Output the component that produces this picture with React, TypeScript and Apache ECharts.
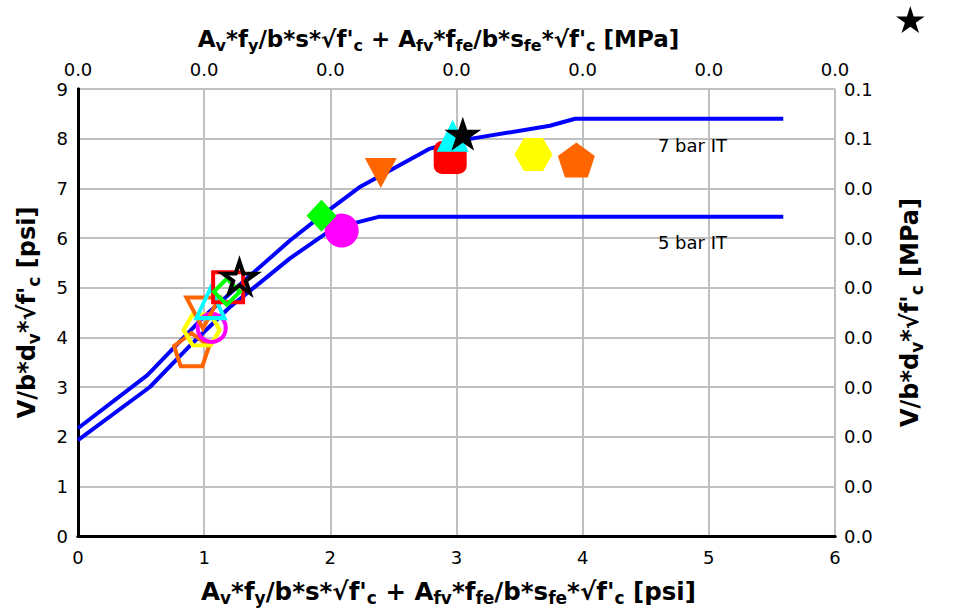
import React, { useEffect, useRef } from "react";
import * as echarts from "echarts";

// ---- data ----
const xTicks = [0, 1, 2, 3, 4, 5, 6];
const topTickLabels = ["0.0", "0.0", "0.0", "0.0", "0.0", "0.0", "0.0"];
const rightTickLabels = ["0.0", "0.0", "0.0", "0.0", "0.0", "0.0", "0.0", "0.0", "0.1", "0.1"];

const curve7bar: [number, number][] = [
  [0, 2.17], [0.55, 3.24], [1.0, 4.42], [1.3, 5.1], [1.68, 5.95], [1.93, 6.45],
  [2.23, 7.02], [2.79, 7.8], [3.0, 7.95], [3.74, 8.26], [3.94, 8.4], [5.59, 8.4],
];
const curve5bar: [number, number][] = [
  [0, 1.93], [0.57, 3.0], [0.89, 3.84], [1.2, 4.6], [1.68, 5.59], [2.02, 6.19],
  [2.39, 6.43], [5.59, 6.43],
];
const curveLabels: [number, number, string][] = [
  [4.87, 7.87, "7 bar IT"],
  [4.87, 5.9, "5 bar IT"],
];

// hollow markers (cluster)
const hollowPentagonOrange: [number, number][] = [[0.9, 3.75]];
const hollowHexYellow: [number, number][] = [[0.98, 4.15]];
const hollowCircleMagenta: [number, number][] = [[1.06, 4.19]];
const hollowInvTriOrange: [number, number][] = [[0.99, 4.49]];
const hollowTriCyan: [number, number][] = [[1.05, 4.69]];
const hollowSquareRed: [number, number][] = [[1.19, 5.01]];
const hollowDiamondGreen: [number, number][] = [[1.18, 4.92]];
const hollowStarBlack: [number, number][] = [[1.28, 5.21]];

// filled markers
const filledCircleMagenta: [number, number][] = [[2.09, 6.15]];
const filledDiamondGreen: [number, number][] = [[1.93, 6.45]];
const filledInvTriOrange: [number, number][] = [[2.4, 7.31]];
const filledSquareRed: [number, number][] = [[2.95, 7.62]];
const filledTriCyan: [number, number][] = [[2.97, 8.06]];
const filledStarBlack: [number, number][] = [[3.05, 8.1]];
const filledHexYellow: [number, number][] = [[3.61, 7.68]];
const filledPentagonOrange: [number, number][] = [[3.95, 7.57]];

const STAR =
  "path://M50 0 L61.23 34.55 L97.55 34.55 L68.16 55.9 L79.39 90.45 L50 69.1 L20.61 90.45 L31.84 55.9 L2.45 34.55 L38.77 34.55 Z";
const HEX = "path://M25 0 L75 0 L100 43.3 L75 86.6 L25 86.6 L0 43.3 Z";
const PENT = "path://M50 0 L97.55 34.55 L79.39 90.45 L20.61 90.45 L2.45 34.55 Z";

const FONT = "'DejaVu Sans', 'Liberation Sans', Arial, sans-serif";

const makeRich = (main: number, sub: number, pad: number) => ({
  m: { fontSize: main, fontWeight: "bold" as const, fontFamily: FONT, color: "#000" },
  s: { fontSize: sub, fontWeight: "bold" as const, fontFamily: FONT, color: "#000", padding: [pad, 0, 0, 0] },
});

const xName = (unit: string) =>
  `{m|A}{s|v}{m|*f}{s|y}{m|/b*s*√f'}{s|c}{m| + A}{s|fv}{m|*f}{s|fe}{m|/b*s}{s|fe}{m|*√f'}{s|c}{m| [${unit}]}`;
const yName = (unit: string) => `{m|V/b*d}{s|v}{m|*√f'}{s|c}{m| [${unit}]}`;

function hollow(name: string, data: [number, number][], symbol: string, color: string, size: number | number[], rotate = 0) {
  return {
    name,
    type: "scatter",
    data,
    symbol,
    symbolSize: size,
    symbolRotate: rotate,
    itemStyle: { color: "rgba(0,0,0,0)", borderColor: color, borderWidth: 4, opacity: 1 },
    z: 3,
  };
}
function filled(name: string, data: [number, number][], symbol: string, color: string, size: number | number[], rotate = 0, z = 4) {
  return {
    name,
    type: "scatter",
    data,
    symbol,
    symbolSize: size,
    symbolRotate: rotate,
    itemStyle: { color, borderWidth: 0, opacity: 1 },
    z,
  };
}

export default function App() {
  const ref = useRef<HTMLDivElement>(null);
  useEffect(() => {
    if (!ref.current) return;
    const chart = echarts.init(ref.current, null, { renderer: "svg" });
    const axisLine = { show: true, lineStyle: { color: "#000", width: 3 } };
    const tickLabel = { color: "#000", fontSize: 18, fontFamily: FONT };
    chart.setOption({
      animation: false,
      backgroundColor: "#fff",
      grid: { left: 78, right: 129, top: 89, bottom: 76, containLabel: false },
      xAxis: [
        {
          type: "value",
          position: "bottom",
          min: 0,
          max: 6,
          interval: 1,
          axisLine,
          axisTick: { show: false },
          axisLabel: { ...tickLabel, margin: 12 },
          splitLine: { show: true, lineStyle: { color: "#c0c0c0", width: 2 } },
          name: xName("psi"),
          nameLocation: "middle",
          nameGap: 40,
          nameTextStyle: { rich: makeRich(24.5, 17, 13), padding: [0, 16, 0, 0] },
        },
        {
          type: "value",
          position: "top",
          min: 0,
          max: 6,
          interval: 1,
          axisLine,
          axisTick: { show: false },
          axisLabel: {
            ...tickLabel,
            margin: 11,
            formatter: (v: number) => topTickLabels[xTicks.indexOf(Math.round(v))] ?? "",
          },
          splitLine: { show: false },
          name: xName("MPa"),
          nameLocation: "middle",
          nameGap: 36,
          nameTextStyle: { rich: makeRich(23, 16, 13), padding: [0, 36, 0, 0] },
        },
      ],
      yAxis: [
        {
          type: "value",
          position: "left",
          min: 0,
          max: 9,
          interval: 1,
          axisLine,
          axisTick: { show: false },
          axisLabel: { ...tickLabel, margin: 10 },
          splitLine: { show: true, lineStyle: { color: "#c0c0c0", width: 2 } },
          name: yName("psi"),
          nameLocation: "middle",
          nameRotate: 90,
          nameGap: 36,
          nameTextStyle: { rich: makeRich(24, 17, 13) },
        },
        {
          type: "value",
          position: "right",
          min: 0,
          max: 9,
          interval: 1,
          axisLine,
          axisTick: { show: false },
          axisLabel: {
            ...tickLabel,
            margin: 9,
            formatter: (v: number) => rightTickLabels[Math.round(v)] ?? "",
          },
          splitLine: { show: false },
          name: yName("MPa"),
          nameLocation: "middle",
          nameRotate: 90,
          nameGap: 60,
          nameTextStyle: { rich: makeRich(24, 17, 13) },
        },
      ],
      series: [
        {
          name: "7 bar IT",
          type: "line",
          data: curve7bar,
          symbol: "none",
          lineStyle: { color: "#0000ff", width: 4 },
          z: 2,
        },
        {
          name: "5 bar IT",
          type: "line",
          data: curve5bar,
          symbol: "none",
          lineStyle: { color: "#0000ff", width: 4 },
          z: 2,
        },
        {
          name: "labels",
          type: "scatter",
          data: curveLabels.map((d) => ({ value: [d[0], d[1]], name: d[2] })),
          symbolSize: 0,
          itemStyle: { opacity: 1 },
          label: {
            show: true,
            position: "inside",
            formatter: (p: any) => p.name,
            color: "#000",
            opacity: 1,
            textBorderWidth: 0,
            fontSize: 18,
            fontFamily: FONT,
          },
          z: 2,
        },
        hollow("hp", hollowPentagonOrange, PENT, "#ff6600", [35, 33]),
        hollow("hh", hollowHexYellow, HEX, "#ffff00", [36, 31]),
        hollow("hc", hollowCircleMagenta, "circle", "#ff00ff", 28),
        hollow("ht", hollowInvTriOrange, "triangle", "#ff6600", [33, 31], 180),
        hollow("hct", hollowTriCyan, "triangle", "#00ffff", [28, 30]),
        hollow("hs", hollowSquareRed, "rect", "#ff0000", 30),
        hollow("hd", hollowDiamondGreen, "diamond", "#00ff00", [26, 26]),
        hollow("hst", hollowStarBlack, STAR, "#000000", [33, 31]),
        filled("fc", filledCircleMagenta, "circle", "#ff00ff", 34),
        filled("fd", filledDiamondGreen, "diamond", "#00ff00", [30, 32]),
        filled("ft", filledInvTriOrange, "triangle", "#ff6600", [32, 30], 180),
        filled("fs", filledSquareRed, "roundRect", "#ff0000", 33),
        filled("fct", filledTriCyan, "triangle", "#00ffff", [32, 32], 0, 5),
        filled("fst", filledStarBlack, STAR, "#000000", [37, 34], 0, 6),
        filled("fh", filledHexYellow, HEX, "#ffff00", [38, 33]),
        filled("fp", filledPentagonOrange, PENT, "#ff6600", [37, 35]),
      ],
      graphic: [
        {
          type: "polygon",
          left: 896,
          top: 6,
          shape: {
            points: [
              [15, 0], [18.4, 10.4], [29.3, 10.4], [20.4, 16.8], [23.8, 27.1],
              [15, 20.7], [6.2, 27.1], [9.6, 16.8], [0.7, 10.4], [11.6, 10.4],
            ],
          },
          style: { fill: "#000" },
        },
      ],
    });
    return () => chart.dispose();
  }, []);
  return (
    <div
      ref={ref}
      style={{ position: "fixed", left: 0, top: 0, width: 964, height: 612, background: "#fff" }}
    />
  );
}
